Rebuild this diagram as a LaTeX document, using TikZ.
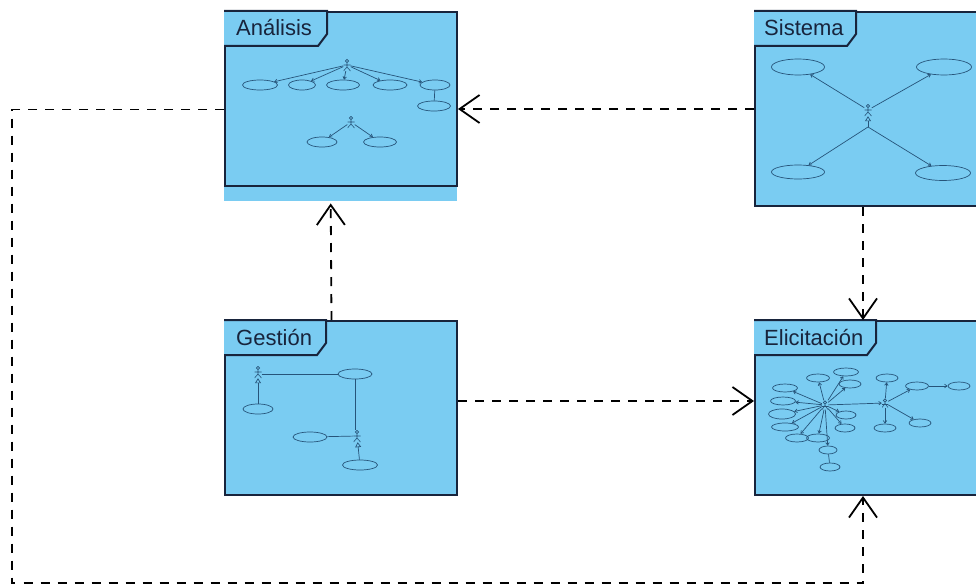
\documentclass[tikz,border=0pt]{standalone}
\usepackage{fontspec}
\setmainfont{Liberation Sans}
\usetikzlibrary{arrows.meta,shapes.geometric,calc}

\definecolor{pkgfill}{RGB}{122,204,242}
\definecolor{pkgline}{RGB}{24,36,60}
\definecolor{uml}{RGB}{38,84,122}

\tikzset{
  pkg/.style={draw=pkgline, fill=pkgfill, line width=2pt, inner sep=0pt, anchor=north west},
  tab/.style={draw=pkgline, fill=pkgfill, line width=2pt, line join=miter},
  title/.style={anchor=base west, inner sep=0pt, text=pkgline, font=\fontsize{22}{26}\selectfont},
  dep/.style={draw=black, line width=1.8pt, dash pattern=on 9pt off 8pt,
              -{Straight Barb[length=20pt,width=28pt]}},
  uc/.style={ellipse, draw=uml, line width=0.7pt, inner sep=0pt, minimum height=10pt},
  assoc/.style={draw=uml, line width=0.7pt},
  navig/.style={assoc, -{Straight Barb[length=2.5pt,width=3.5pt]}},
  gen/.style={assoc, -{Triangle[open,length=5pt,width=6pt]}},
  actor/.style={rectangle, inner sep=0pt, minimum width=7pt, minimum height=12pt,
    path picture={
      \draw[uml, line width=0.6pt]
        ([yshift=-2pt]path picture bounding box.north) circle[radius=1.6pt]
        ([yshift=-3.6pt]path picture bounding box.north) -- ([yshift=4pt]path picture bounding box.south)
        ([yshift=-6pt]path picture bounding box.north west) -- ([yshift=-6pt]path picture bounding box.north east)
        (path picture bounding box.south west) -- ([yshift=4pt]path picture bounding box.south)
        -- (path picture bounding box.south east);
    }},
}

\begin{document}
\begin{tikzpicture}[x=1pt, y=-1pt]
\useasboundingbox (0,0) rectangle (976,586);
\clip (0,0) rectangle (976,586);

% ---------- packages ----------
\node[pkg, minimum width=232pt, minimum height=174pt] (ana) at (224,11) {};
\node[anchor=north west, fill=pkgfill, inner sep=0pt, minimum width=233pt, minimum height=14pt] (anastrip) at (223.5,187) {};
\node[pkg, minimum width=232pt, minimum height=194pt] (sis) at (754,11) {};
\node[pkg, minimum width=232pt, minimum height=174pt] (ges) at (224,320) {};
\node[pkg, minimum width=232pt, minimum height=174pt] (eli) at (754,320) {};

% title tabs
\path[tab] (224,11) -- (327,11) -- (327,34) -- (318,46) -- (224,46);
\path[tab] (754,11) -- (856,11) -- (856,34) -- (847,46) -- (754,46);
\path[tab] (224,320) -- (326,320) -- (326,343) -- (317,355) -- (224,355);
\path[tab] (754,320) -- (876,320) -- (876,343) -- (867,355) -- (754,355);
\node[title] (anat) at (236,36) {Análisis};
\node[title] (sist) at (764,36) {Sistema};
\node[title] (gest) at (236,345) {Gestión};
\node[title] (elit) at (764,345) {Elicitación};

% ---------- Análisis contents ----------
\node[actor] (aA) at (347,65) {};
\node[uc, minimum width=35pt] (a1) at (260,85) {};
\node[uc, minimum width=27pt] (a2) at (302,85) {};
\node[uc, minimum width=33pt] (a3) at (343,85) {};
\node[uc, minimum width=34pt] (a4) at (390,85) {};
\node[uc, minimum width=30pt] (a5) at (435,85) {};
\node[uc, minimum width=33pt] (a6) at (434,106) {};
\foreach \t in {a1,a2,a3,a4,a5} \draw[navig] (aA) -- (\t);
\draw[assoc] (a5) -- (a6);
\node[actor] (aB) at (351,122) {};
\node[uc, minimum width=30pt] (b1) at (322,142) {};
\node[uc, minimum width=33pt] (b2) at (380,142) {};
\draw[navig] (aB) -- (b1);
\draw[navig] (aB) -- (b2);

% ---------- Sistema contents ----------
\node[actor] (sA) at (868,110) {};
\coordinate (sx) at (868,127);
\node[uc, minimum width=53pt, minimum height=16pt] (s1) at (798,67) {};
\node[uc, minimum width=55pt, minimum height=16pt] (s2) at (944,67) {};
\node[uc, minimum width=53pt, minimum height=14pt] (s3) at (798,172) {};
\node[uc, minimum width=55pt, minimum height=15pt] (s4) at (943,173) {};
\draw[gen] (sx) -- (sA);
\draw[navig] (sA) -- (s1);
\draw[navig] (sA) -- (s2);
\draw[navig] (sx) -- (s3);
\draw[navig] (sx) -- (s4);

% ---------- Gestión contents ----------
\node[actor] (gA) at (258,372) {};
\node[uc, minimum width=34pt] (g1) at (355,374) {};
\node[uc, minimum width=30pt] (g2) at (258,409) {};
\node[actor] (gB) at (357,436) {};
\node[uc, minimum width=34pt] (g3) at (310,437) {};
\node[uc, minimum width=35pt] (g4) at (360,465) {};
\draw[assoc] (gA.east |- g1) -- (g1);
\draw[gen] (g2) -- (gA);
\draw[assoc] (g1) -- (g1 |- gB.north);
\draw[assoc] (g3) -- (gB);
\draw[gen] (g4) -- (gB);

% ---------- Elicitación contents ----------
\node[actor, minimum width=6pt, minimum height=9pt] (eA) at (825,405) {};
\node[actor, minimum width=6pt, minimum height=9pt] (eB) at (885,403) {};
\node[uc, minimum width=25pt, minimum height=8pt] (e1) at (846,372) {};
\node[uc, minimum width=23pt, minimum height=8pt] (e2) at (818,378) {};
\node[uc, minimum width=22pt, minimum height=8pt] (e3) at (850,384) {};
\node[uc, minimum width=25pt, minimum height=8pt] (e4) at (785,388) {};
\node[uc, minimum width=25pt, minimum height=8pt] (e5) at (783,401) {};
\node[uc, minimum width=27pt, minimum height=10pt] (e6) at (782,414) {};
\node[uc, minimum width=27pt, minimum height=8pt] (e7) at (785,427) {};
\node[uc, minimum width=23pt, minimum height=8pt] (e8) at (797,438) {};
\node[uc, minimum width=23pt, minimum height=8pt] (e9) at (818,438) {};
\node[uc, minimum width=20pt, minimum height=8pt] (e10) at (846,415) {};
\node[uc, minimum width=20pt, minimum height=8pt] (e11) at (845,428) {};
\node[uc, minimum width=18pt, minimum height=8pt] (e12) at (828,450) {};
\node[uc, minimum width=20pt, minimum height=8pt] (e13) at (830,467) {};
\node[uc, minimum width=22pt, minimum height=8pt] (f1) at (887,378) {};
\node[uc, minimum width=23pt, minimum height=8pt] (f2) at (917,386) {};
\node[uc, minimum width=22pt, minimum height=8pt] (f3) at (959,386) {};
\node[uc, minimum width=22pt, minimum height=8pt] (f4) at (920,423) {};
\node[uc, minimum width=22pt, minimum height=8pt] (f5) at (885,428) {};
\foreach \t in {e1,e2,e3,e4,e5,e6,e7,e8,e9,e10,e11,e12} \draw[navig] (eA) -- (\t);
\draw[assoc] (e12) -- (e13);
\draw[navig] (eA) -- (eB);
\foreach \t in {f1,f2,f4,f5} \draw[navig] (eB) -- (\t);
\draw[navig] (f2) -- (f3);

% ---------- dependencies between packages ----------
\coordinate (bl) at (12,583);
\draw[dep] (sis.west) -- (sis.west -| ana.east);
\draw[dep] ([xshift=-9.5pt]ges.north) -- ([xshift=-9.5pt, yshift=-2pt]anastrip.south);
\draw[dep] ([xshift=-8pt]sis.south) -- ([xshift=-8pt]eli.north);
\draw[dep] ([yshift=7pt]ges.east) -- ([yshift=7pt]ges.east -| eli.west);
\draw[dep] ([yshift=-10.5pt]ana.west) -| (bl) -| ([xshift=-8pt]eli.south);
\end{tikzpicture}
\end{document}
